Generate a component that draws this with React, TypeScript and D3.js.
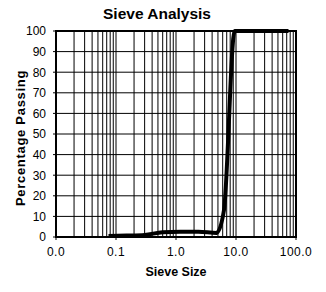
import * as d3 from 'd3';

// ── Layout ────────────────────────────────────────────────────────────────────
const VW = 326;
const VH = 292;
const M = { top: 31, right: 30, bottom: 55, left: 56 };
const IW = VW - M.left - M.right;
const IH = VH - M.top - M.bottom;

const FONT = 'Arial, "Liberation Sans", sans-serif';

// ── Data ──────────────────────────────────────────────────────────────────────
const SIEVE_MM = [0.075, 0.15, 0.3, 0.6, 1.18, 2.36, 4.75, 6.3, 9.5, 12.5, 19, 25, 37.5, 50, 75];
const PASSING = [0.5, 0.7, 1, 2.3, 2.5, 2.5, 2, 13, 100, 100, 100, 100, 100, 100, 100];

const X_TICKS = [0.01, 0.1, 1, 10, 100];
const X_LABELS = ['0.0', '0.1', '1.0', '10.0', '100.0'];
const Y_TICKS = [0, 10, 20, 30, 40, 50, 60, 70, 80, 90, 100];

export default function App() {
  const x = d3.scaleLog().domain([0.01, 100]).range([0, IW]);
  const y = d3.scaleLinear().domain([0, 100]).range([IH, 0]);

  // minor log gridlines 2..9 in each decade
  const minor: number[] = [];
  for (let e = -2; e < 2; e++) {
    for (let k = 2; k <= 9; k++) minor.push(k * Math.pow(10, e));
  }

  const pts = SIEVE_MM.map((s, i) => [x(s), y(PASSING[i])] as [number, number]);
  const line = d3.line().curve(d3.curveMonotoneX)(pts) ?? '';

  return (
    <svg width={VW} height={VH} style={{ position: 'absolute', left: 0, top: 0 }}>
      <rect width={VW} height={VH} fill="#fff" />
      <text x={157} y={19} textAnchor="middle" fontSize={15.5} fontWeight={700} fontFamily={FONT}>
        Sieve Analysis
      </text>
      <g transform={`translate(${M.left},${M.top})`}>
        {minor.map(v => (
          <line key={v} x1={x(v)} x2={x(v)} y1={0} y2={IH} stroke="#000" strokeWidth={1} />
        ))}
        {X_TICKS.map(v => (
          <line key={'mx' + v} x1={x(v)} x2={x(v)} y1={0} y2={IH + 3} stroke="#000" strokeWidth={1} />
        ))}
        {Y_TICKS.map(v => (
          <g key={'y' + v}>
            <line x1={-3} x2={IW} y1={y(v)} y2={y(v)} stroke="#000" strokeWidth={1} />
            <text x={-10} y={y(v)} dy="0.36em" textAnchor="end" fontSize={12} fontFamily={FONT}>
              {v}
            </text>
          </g>
        ))}
        {X_TICKS.map((v, i) => (
          <text key={'xl' + v} x={x(v)} y={IH + 19} textAnchor="middle" fontSize={12} letterSpacing={0.5} fontFamily={FONT}>
            {X_LABELS[i]}
          </text>
        ))}
        <rect x={0} y={0} width={IW} height={IH} fill="none" stroke="#000" strokeWidth={2} />
        <path d={line} fill="none" stroke="#000" strokeWidth={4} strokeLinejoin="round" />
      </g>
      <text x={M.left + IW / 2} y={276} textAnchor="middle" fontSize={12.5} fontWeight={700} fontFamily={FONT}>
        Sieve Size
      </text>
      <text
        transform={`translate(25,${M.top + IH / 2 + 4}) rotate(-90)`}
        textAnchor="middle"
        fontSize={13}
        fontWeight={700}
        letterSpacing={0.7}
        fontFamily={FONT}
      >
        Percentage Passing
      </text>
    </svg>
  );
}
